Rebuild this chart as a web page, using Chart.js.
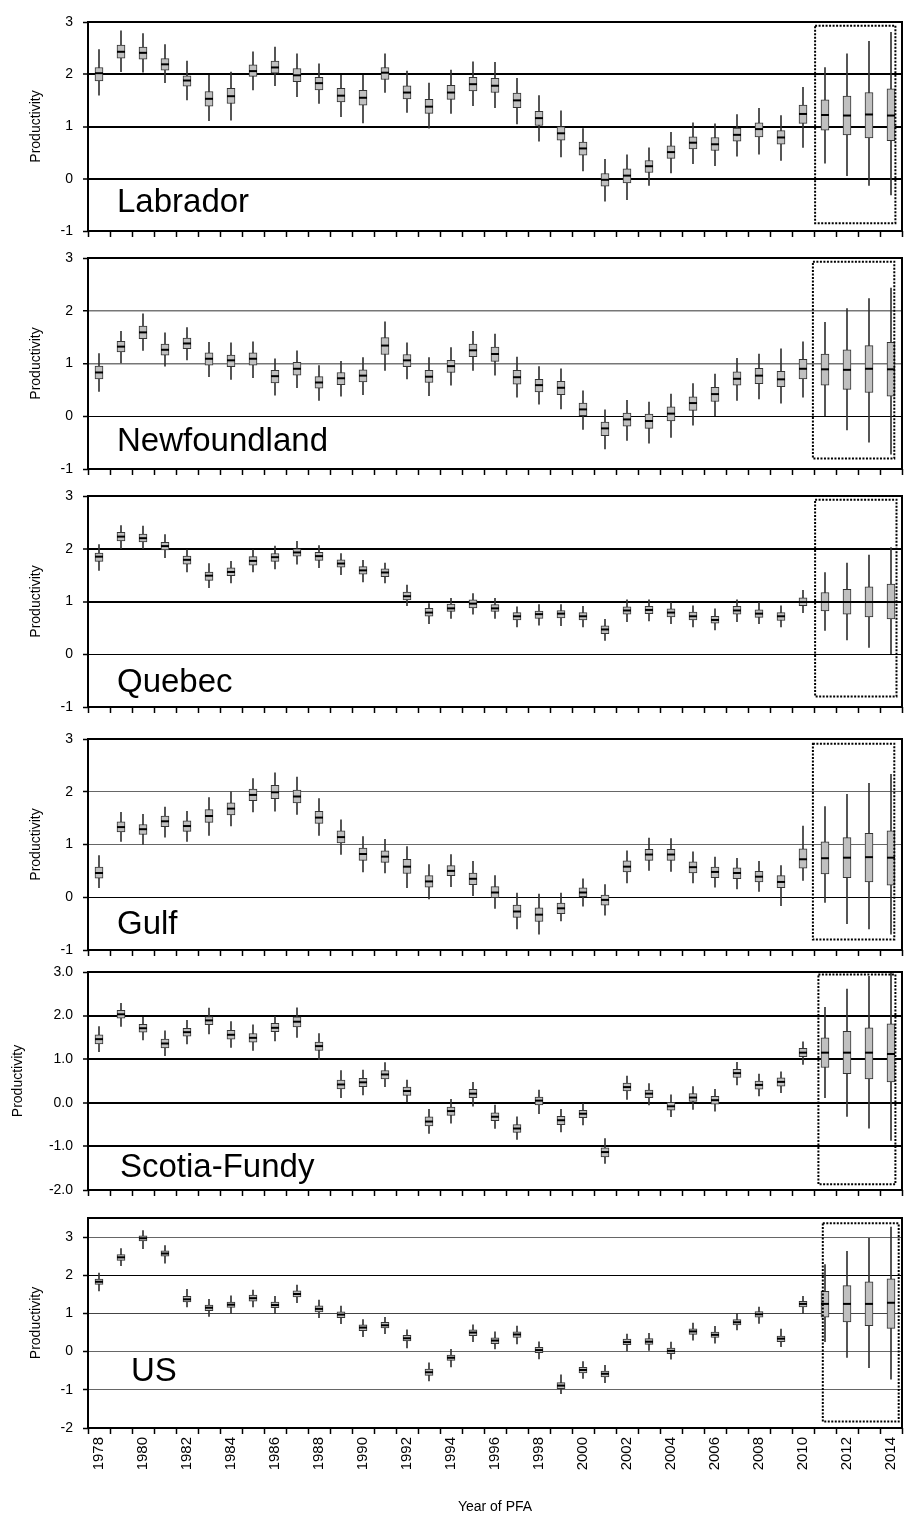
<!DOCTYPE html>
<html>
<head>
<meta charset="utf-8">
<script src="https://cdn.jsdelivr.net/npm/chart.js@4.4.1/dist/chart.umd.min.js"></script>
<style>
  html, body { margin: 0; padding: 0; background: #fff; }
  #wrap { position: relative; width: 905px; height: 1522px; }
  #wrap canvas { position: absolute; left: 0; }
</style>
</head>
<body>
<div id="wrap"></div>
<script>
const years = ["1978","1979","1980","1981","1982","1983","1984","1985","1986","1987","1988","1989","1990",
  "1991","1992","1993","1994","1995","1996","1997","1998","1999","2000","2001","2002","2003","2004",
  "2005","2006","2007","2008","2009","2010","2011","2012","2013","2014"];

// Labrador
const labHi  = [2.47,2.83,2.78,2.57,2.25,1.98,2.04,2.43,2.52,2.39,2.20,1.98,1.98,2.39,2.06,1.83,2.08,2.24,2.23,1.92,1.59,1.30,0.96,0.37,0.46,0.59,0.89,1.07,1.05,1.23,1.35,1.21,1.75,2.13,2.39,2.63,2.80];
const labQ3  = [2.13,2.56,2.52,2.30,1.97,1.67,1.73,2.18,2.25,2.11,1.94,1.73,1.69,2.13,1.78,1.52,1.79,1.94,1.92,1.64,1.29,1.00,0.70,0.10,0.19,0.35,0.63,0.80,0.79,0.97,1.07,0.92,1.41,1.51,1.58,1.65,1.72];
const labMed = [2.02,2.43,2.41,2.19,1.88,1.53,1.58,2.06,2.13,1.98,1.83,1.59,1.55,2.03,1.65,1.38,1.65,1.81,1.78,1.50,1.16,0.87,0.58,-0.02,0.06,0.24,0.51,0.69,0.66,0.84,0.95,0.79,1.24,1.22,1.21,1.23,1.21];
const labQ1  = [1.87,2.31,2.29,2.08,1.77,1.39,1.44,1.96,2.02,1.86,1.70,1.47,1.41,1.90,1.53,1.25,1.52,1.68,1.65,1.36,1.02,0.74,0.45,-0.14,-0.08,0.12,0.39,0.57,0.54,0.72,0.80,0.66,1.06,0.93,0.84,0.78,0.73];
const labLo  = [1.60,2.05,2.04,1.84,1.51,1.11,1.12,1.70,1.78,1.57,1.44,1.19,1.07,1.65,1.27,0.97,1.25,1.40,1.36,1.05,0.72,0.42,0.15,-0.43,-0.40,-0.13,0.11,0.29,0.25,0.43,0.47,0.35,0.60,0.30,0.06,-0.13,-0.31];

// Newfoundland
const nfHi  = [1.19,1.61,1.94,1.58,1.68,1.40,1.39,1.41,1.09,1.24,0.96,1.04,1.11,1.79,1.39,1.11,1.30,1.61,1.56,1.12,0.94,0.90,0.48,0.12,0.30,0.27,0.42,0.62,0.80,1.10,1.18,1.28,1.41,1.78,2.04,2.23,2.43];
const nfQ3  = [0.95,1.42,1.71,1.37,1.48,1.20,1.16,1.20,0.87,1.02,0.75,0.83,0.88,1.49,1.17,0.87,1.06,1.37,1.31,0.87,0.70,0.66,0.25,-0.11,0.06,0.04,0.18,0.37,0.55,0.84,0.91,0.85,1.08,1.18,1.26,1.34,1.40];
const nfMed = [0.83,1.32,1.59,1.26,1.38,1.09,1.06,1.09,0.76,0.90,0.64,0.72,0.77,1.34,1.06,0.75,0.95,1.25,1.18,0.74,0.59,0.54,0.13,-0.23,-0.06,-0.09,0.05,0.25,0.42,0.71,0.77,0.70,0.90,0.89,0.88,0.90,0.89];
const nfQ1  = [0.71,1.22,1.47,1.16,1.28,0.97,0.94,0.97,0.63,0.78,0.53,0.60,0.65,1.17,0.94,0.64,0.83,1.13,1.04,0.61,0.46,0.41,0.01,-0.37,-0.19,-0.23,-0.09,0.11,0.28,0.59,0.62,0.56,0.71,0.59,0.51,0.45,0.38];
const nfLo  = [0.47,1.01,1.25,0.95,1.07,0.75,0.70,0.73,0.40,0.54,0.30,0.38,0.41,0.87,0.71,0.39,0.59,0.87,0.78,0.36,0.23,0.14,-0.25,-0.62,-0.46,-0.51,-0.40,-0.17,0.01,0.30,0.33,0.25,0.36,0.00,-0.26,-0.49,-0.72];

// Quebec
const qcHi  = [2.08,2.44,2.43,2.27,1.98,1.72,1.76,1.98,2.05,2.14,2.06,1.91,1.78,1.73,1.31,0.96,1.06,1.15,1.06,0.90,0.94,0.94,0.91,0.66,1.03,1.03,0.98,0.92,0.86,1.03,0.98,0.92,1.21,1.55,1.73,1.88,2.02];
const qcQ3  = [1.92,2.31,2.28,2.12,1.86,1.56,1.64,1.85,1.91,2.00,1.93,1.79,1.66,1.62,1.18,0.87,0.95,1.03,0.94,0.79,0.82,0.83,0.79,0.54,0.90,0.91,0.86,0.80,0.72,0.91,0.84,0.79,1.07,1.17,1.23,1.28,1.33];
const qcMed = [1.85,2.23,2.20,2.05,1.79,1.49,1.56,1.77,1.84,1.93,1.86,1.72,1.59,1.55,1.10,0.79,0.87,0.96,0.87,0.72,0.76,0.77,0.72,0.47,0.83,0.84,0.79,0.72,0.65,0.83,0.77,0.72,0.99,0.99,0.99,0.99,0.99];
const qcQ1  = [1.76,2.15,2.13,1.98,1.71,1.40,1.49,1.69,1.76,1.86,1.78,1.65,1.52,1.47,1.03,0.72,0.81,0.88,0.81,0.65,0.68,0.69,0.65,0.39,0.76,0.77,0.71,0.65,0.59,0.76,0.70,0.64,0.92,0.82,0.76,0.71,0.67];
const qcLo  = [1.59,2.00,2.00,1.83,1.56,1.26,1.35,1.56,1.62,1.71,1.64,1.51,1.37,1.35,0.92,0.58,0.68,0.76,0.68,0.52,0.55,0.54,0.52,0.26,0.62,0.63,0.58,0.52,0.46,0.62,0.58,0.52,0.79,0.45,0.27,0.13,0.00];

// Gulf
const gfHi  = [0.79,1.61,1.57,1.71,1.63,1.89,2.00,2.25,2.36,2.28,1.87,1.47,1.15,1.10,0.96,0.62,0.81,0.68,0.41,0.08,0.06,0.08,0.35,0.24,0.88,1.12,1.11,0.86,0.76,0.74,0.68,0.60,1.35,1.72,1.95,2.16,2.33];
const gfQ3  = [0.57,1.43,1.38,1.54,1.45,1.66,1.79,2.05,2.12,2.03,1.63,1.26,0.93,0.88,0.72,0.41,0.60,0.46,0.20,-0.15,-0.20,-0.11,0.18,0.04,0.69,0.91,0.91,0.67,0.57,0.56,0.49,0.41,0.92,1.05,1.13,1.21,1.26];
const gfMed = [0.46,1.33,1.29,1.44,1.35,1.54,1.68,1.94,1.99,1.91,1.51,1.14,0.82,0.77,0.58,0.30,0.50,0.35,0.09,-0.27,-0.33,-0.21,0.09,-0.05,0.58,0.81,0.81,0.57,0.48,0.46,0.39,0.29,0.72,0.74,0.75,0.76,0.75];
const gfQ1  = [0.36,1.24,1.19,1.34,1.25,1.42,1.56,1.83,1.87,1.79,1.40,1.03,0.70,0.66,0.45,0.19,0.41,0.24,-0.01,-0.38,-0.46,-0.31,0.00,-0.15,0.48,0.70,0.70,0.46,0.37,0.35,0.29,0.18,0.55,0.44,0.37,0.29,0.23];
const gfLo  = [0.18,1.06,1.00,1.14,1.06,1.17,1.35,1.62,1.63,1.57,1.17,0.81,0.48,0.46,0.18,-0.03,0.20,0.03,-0.21,-0.60,-0.70,-0.45,-0.17,-0.34,0.27,0.51,0.49,0.27,0.19,0.16,0.11,-0.16,0.32,-0.10,-0.50,-0.60,-0.70];

// Scotia-Fundy
const sfHi  = [1.75,2.28,1.96,1.65,1.89,2.17,1.86,1.79,1.98,2.18,1.59,0.74,0.75,0.92,0.52,-0.15,0.08,0.47,-0.05,-0.32,0.29,-0.15,-0.02,-0.82,0.61,0.44,0.18,0.37,0.31,0.93,0.66,0.71,1.40,2.19,2.61,2.90,3.00];
const sfQ3  = [1.56,2.12,1.80,1.46,1.71,1.98,1.66,1.59,1.82,1.97,1.39,0.52,0.56,0.74,0.36,-0.32,-0.10,0.31,-0.23,-0.50,0.13,-0.31,-0.17,-1.03,0.45,0.29,0.01,0.21,0.15,0.77,0.50,0.57,1.25,1.49,1.64,1.72,1.81];
const sfMed = [1.46,2.03,1.71,1.36,1.62,1.89,1.56,1.49,1.72,1.86,1.30,0.42,0.47,0.65,0.27,-0.43,-0.19,0.21,-0.32,-0.59,0.05,-0.40,-0.25,-1.13,0.36,0.21,-0.08,0.12,0.06,0.68,0.41,0.48,1.15,1.15,1.15,1.15,1.12];
const sfQ1  = [1.35,1.94,1.62,1.26,1.53,1.79,1.46,1.39,1.63,1.74,1.20,0.32,0.37,0.55,0.17,-0.53,-0.29,0.12,-0.41,-0.68,-0.05,-0.50,-0.34,-1.24,0.27,0.12,-0.17,0.03,-0.03,0.58,0.31,0.38,1.06,0.81,0.67,0.55,0.48];
const sfLo  = [1.17,1.75,1.44,1.08,1.35,1.58,1.27,1.20,1.42,1.50,0.99,0.12,0.18,0.37,0.00,-0.70,-0.47,-0.08,-0.59,-0.84,-0.25,-0.67,-0.51,-1.39,0.08,-0.05,-0.32,-0.15,-0.19,0.41,0.16,0.23,0.88,0.12,-0.31,-0.58,-0.86];

// US
const usHi  = [2.06,2.70,3.17,2.78,1.63,1.37,1.46,1.61,1.45,1.74,1.35,1.19,0.84,0.90,0.57,-0.29,0.06,0.70,0.52,0.67,0.26,-0.61,-0.26,-0.36,0.46,0.48,0.25,0.75,0.66,1.00,1.17,0.59,1.45,2.28,2.63,2.97,3.26];
const usQ3  = [1.90,2.54,3.03,2.64,1.45,1.22,1.30,1.48,1.30,1.59,1.20,1.04,0.70,0.77,0.43,-0.46,-0.09,0.57,0.36,0.52,0.11,-0.81,-0.41,-0.51,0.33,0.34,0.09,0.60,0.51,0.84,1.05,0.41,1.32,1.58,1.73,1.83,1.91];
const usMed = [1.83,2.47,2.97,2.57,1.37,1.15,1.23,1.40,1.22,1.51,1.12,0.97,0.63,0.69,0.35,-0.54,-0.16,0.50,0.29,0.45,0.04,-0.89,-0.48,-0.58,0.25,0.26,0.02,0.53,0.44,0.77,0.98,0.34,1.25,1.25,1.25,1.25,1.28];
const usQ1  = [1.76,2.39,2.90,2.50,1.30,1.07,1.16,1.32,1.15,1.43,1.04,0.89,0.55,0.62,0.28,-0.62,-0.23,0.42,0.21,0.37,-0.03,-0.97,-0.56,-0.66,0.18,0.19,-0.05,0.45,0.37,0.70,0.90,0.26,1.17,0.90,0.78,0.68,0.61];
const usLo  = [1.59,2.25,2.70,2.32,1.17,0.92,1.00,1.17,1.00,1.28,0.89,0.73,0.39,0.47,0.10,-0.77,-0.40,0.26,0.07,0.20,-0.19,-1.10,-0.70,-0.81,0.02,0.03,-0.20,0.30,0.22,0.57,0.74,0.13,1.00,0.26,-0.15,-0.42,-0.72];

const BLACK2 = ['#000', 2], BLACK1 = ['#000', 1], GRAY = ['#777', 1.5], GRAY1 = ['#666', 1];

const panels = [
  { name: 'Labrador', med: labMed, q1: labQ1, q3: labQ3, lo: labLo, hi: labHi,
    top: 10, plotH: 209, min: -1, max: 3, dec: 0, grid: {2: BLACK2, 1: BLACK2, 0: BLACK2},
    titlePad: 28, labelX: 117, labelDy: 19, fc: [32.55, 36.2, 2.93, -0.85] },
  { name: 'Newfoundland', med: nfMed, q1: nfQ1, q3: nfQ3, lo: nfLo, hi: nfHi,
    top: 246, plotH: 211, min: -1, max: 3, dec: 0, grid: {2: GRAY, 1: GRAY, 0: BLACK1},
    titlePad: 28, labelX: 117, labelDy: 18, fc: [32.45, 36.15, 2.93, -0.8] },
  { name: 'Quebec', med: qcMed, q1: qcQ1, q3: qcQ3, lo: qcLo, hi: qcHi,
    top: 484, plotH: 211, min: -1, max: 3, dec: 0, grid: {2: BLACK2, 1: BLACK2, 0: BLACK1},
    titlePad: 28, labelX: 117, labelDy: 15, fc: [32.55, 36.25, 2.93, -0.8] },
  { name: 'Gulf', med: gfMed, q1: gfQ1, q3: gfQ3, lo: gfLo, hi: gfHi,
    top: 727, plotH: 211, min: -1, max: 3, dec: 0, grid: {2: GRAY1, 1: GRAY1, 0: BLACK1},
    titlePad: 28, labelX: 117, labelDy: 16, fc: [32.45, 36.15, 2.91, -0.8] },
  { name: 'Scotia-Fundy', med: sfMed, q1: sfQ1, q3: sfQ3, lo: sfLo, hi: sfHi,
    top: 960, plotH: 218, min: -2, max: 3, dec: 1, grid: {2: BLACK2, 1: BLACK2, 0: BLACK2, '-1': BLACK2},
    titlePad: 10, labelX: 120, labelDy: 13, fc: [32.7, 36.2, 2.94, -1.87] },
  { name: 'US', med: usMed, q1: usQ1, q3: usQ3, lo: usLo, hi: usHi,
    top: 1206, plotH: 210, min: -2, max: 3.5, dec: 0,
    grid: {3: GRAY1, 2: BLACK1, 1: ['#444', 1], 0: GRAY1, '-1': GRAY1},
    titlePad: 28, labelX: 131, labelDy: 47, fc: [32.9, 36.35, 3.36, -1.83], last: true }
];

function makePanel(p) {
  const xH = p.last ? 1522 - (p.top + 12 + p.plotH) : 8;
  const canvas = document.createElement('canvas');
  canvas.width = 905;
  canvas.height = 12 + p.plotH + xH;
  canvas.style.top = p.top + 'px';
  document.getElementById('wrap').appendChild(canvas);

  const boxPlot = {
    id: 'boxPlot',
    afterDatasetsDraw(chart) {
      const { ctx, chartArea: a, scales: { x, y } } = chart;
      ctx.save();
      // medians
      ctx.strokeStyle = '#000';
      ctx.lineWidth = 2;
      p.med.forEach((m, i) => {
        const cx = x.getPixelForValue(i), cy = y.getPixelForValue(m);
        ctx.beginPath();
        ctx.moveTo(cx - 4, cy);
        ctx.lineTo(cx + 4, cy);
        ctx.stroke();
      });
      // dotted forecast frame
      const [i0, i1, vTop, vBot] = p.fc;
      const fx0 = x.getPixelForValue(i0), fx1 = x.getPixelForValue(i1);
      const fy0 = y.getPixelForValue(vTop), fy1 = y.getPixelForValue(vBot);
      ctx.setLineDash([2, 1.5]);
      ctx.lineWidth = 2;
      ctx.strokeRect(fx0, fy0, fx1 - fx0, fy1 - fy0);
      // plot border
      ctx.setLineDash([]);
      ctx.lineWidth = 2;
      ctx.strokeRect(a.left, a.top, a.width, a.height);
      // region name
      ctx.fillStyle = '#000';
      ctx.font = '33px Arial, "Liberation Sans", sans-serif';
      ctx.textBaseline = 'alphabetic';
      ctx.fillText(p.name, p.labelX, a.bottom - p.labelDy);
      ctx.restore();
    }
  };

  const gridOf = v => p.grid[v] || ['rgba(0,0,0,0)', 1];

  return new Chart(canvas, {
    type: 'bar',
    data: {
      labels: years,
      datasets: [
        {
          data: p.q1.map((v, i) => [v, p.q3[i]]),
          backgroundColor: '#c0c0c0',
          borderColor: '#333',
          borderWidth: 1,
          borderSkipped: false,
          barThickness: 8,
          grouped: false,
          order: 0
        },
        {
          data: p.lo.map((v, i) => [v, p.hi[i]]),
          backgroundColor: '#333',
          borderWidth: 0,
          barThickness: 1,
          grouped: false,
          order: 1
        }
      ]
    },
    options: {
      responsive: false,
      animation: false,
      devicePixelRatio: 1,
      layout: { padding: { top: 12, right: 3, left: 0, bottom: 0 } },
      plugins: { legend: { display: false }, tooltip: { enabled: false } },
      scales: {
        x: {
          offset: true,
          border: { display: false },
          grid: { offset: true, drawOnChartArea: false, drawTicks: true, tickLength: 6,
                  tickColor: '#000', tickWidth: 1.5 },
          ticks: {
            display: !!p.last,
            autoSkip: false,
            minRotation: 90,
            maxRotation: 90,
            padding: 3,
            color: '#000',
            font: { family: 'Arial', size: 15 },
            callback: (v, i) => (i % 2 === 0 ? years[i] : '')
          },
          title: {
            display: !!p.last,
            text: 'Year of PFA',
            color: '#000',
            font: { family: 'Arial', size: 14 },
            padding: { top: 4, bottom: 6 }
          },
          afterFit: s => { s.height = xH; s.paddingLeft = 0; s.paddingRight = 0; }
        },
        y: {
          min: p.min,
          max: p.max,
          border: { display: false },
          grid: {
            color: c => gridOf(c.tick.value)[0],
            lineWidth: c => gridOf(c.tick.value)[1],
            drawTicks: true,
            tickLength: 5,
            tickColor: '#000',
            tickWidth: 1.5
          },
          ticks: {
            stepSize: 1,
            includeBounds: false,
            padding: 10,
            color: '#000',
            font: { family: 'Arial', size: 14 },
            callback: v => v.toFixed(p.dec)
          },
          title: {
            display: true,
            text: 'Productivity',
            color: '#000',
            font: { family: 'Arial', size: 14 },
            padding: { top: p.titlePad, bottom: 0 }
          },
          afterFit: s => { s.width = 88; s.paddingTop = 0; s.paddingBottom = 0; }
        }
      }
    },
    plugins: [boxPlot]
  });
}

panels.forEach(makePanel);
</script>
</body>
</html>
